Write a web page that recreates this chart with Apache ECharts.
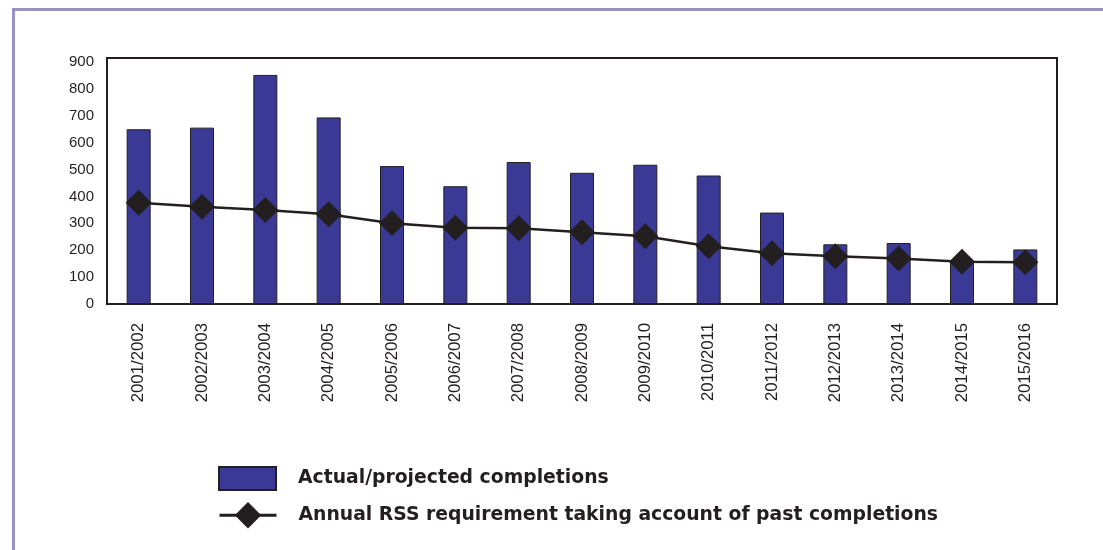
<!DOCTYPE html>
<html>
<head>
<meta charset="utf-8">
<script src="https://cdn.jsdelivr.net/npm/echarts@6/dist/echarts.min.js"></script>
<style>
  html, body { margin: 0; padding: 0; background: #ffffff; }
  #chart { width: 1103px; height: 550px; }
</style>
</head>
<body>
<div id="chart"></div>
<script>
// Financial years on the category axis
const years = [
  '2001/2002', '2002/2003', '2003/2004', '2004/2005', '2005/2006',
  '2006/2007', '2007/2008', '2008/2009', '2009/2010', '2010/2011',
  '2011/2012', '2012/2013', '2013/2014', '2014/2015', '2015/2016'
];

// Dwellings completed (actual, then projected)
const completions = [650, 656, 852, 694, 513, 438, 528, 488, 518, 478, 340, 222, 227, 160, 203];

// Annual RSS requirement after allowing for past completions
const requirement = [377, 362, 350, 334, 300, 284, 282, 267, 252, 215, 189, 178, 169, 157, 155];

const barName = 'Actual/projected completions';
const lineName = 'Annual RSS requirement taking account of past completions';

const ink = '#231f20';
const barFill = '#3a3a96';

const legendText = {
  fontFamily: 'DejaVu Sans', fontWeight: 'bold', fontSize: 18.8,
  color: ink, padding: [0, 0, 0, 17]
};

const chart = echarts.init(document.getElementById('chart'), null, { renderer: 'canvas' });

chart.setOption({
  backgroundColor: '#ffffff',
  animation: false,
  textStyle: { fontFamily: 'Liberation Sans, Arial, sans-serif', color: ink },
  graphic: [{
    type: 'rect',
    shape: { x: 13.5, y: 9.5, width: 1300, height: 800 },
    style: { fill: 'none', stroke: '#9c92ca', lineWidth: 3 },
    silent: true
  }],
  grid: {
    left: 107, right: 46, top: 58, bottom: 246,
    show: true, borderColor: ink, borderWidth: 2, backgroundColor: 'transparent'
  },
  legend: [{
    data: [{ name: barName, icon: 'rect' }],
    orient: 'vertical',
    left: 218, top: 466, padding: 0,
    itemWidth: 57, itemHeight: 23,
    selectedMode: false,
    textStyle: legendText
  }, {
    data: [lineName],
    orient: 'vertical',
    left: 218, top: 502, padding: 0,
    itemWidth: 57, itemHeight: 33,
    selectedMode: false,
    lineStyle: { width: 3 },
    textStyle: legendText
  }],
  xAxis: {
    type: 'category',
    data: years,
    boundaryGap: true,
    axisLine: { show: true, lineStyle: { color: ink, width: 2 } },
    axisTick: { show: false },
    axisLabel: { rotate: 90, margin: 19, fontSize: 16.8, color: ink, interval: 0 },
    splitLine: { show: false }
  },
  yAxis: {
    type: 'value',
    min: 0, max: 915, interval: 100,
    axisLine: { show: true, lineStyle: { color: ink, width: 2 } },
    axisTick: { show: false },
    splitLine: { show: false },
    axisLabel: {
      margin: 13, fontSize: 15, color: ink,
      formatter: v => (v % 100 === 0 ? String(v) : '')
    }
  },
  series: [{
    name: barName,
    type: 'bar',
    data: completions,
    barWidth: 24,
    itemStyle: { color: barFill, borderColor: ink, borderWidth: 1 },
    z: 2
  }, {
    name: lineName,
    type: 'line',
    data: requirement,
    symbol: 'diamond',
    symbolSize: 26,
    showAllSymbol: true,
    lineStyle: { color: ink, width: 2.5 },
    itemStyle: { color: ink },
    z: 3
  }]
});
</script>
</body>
</html>
